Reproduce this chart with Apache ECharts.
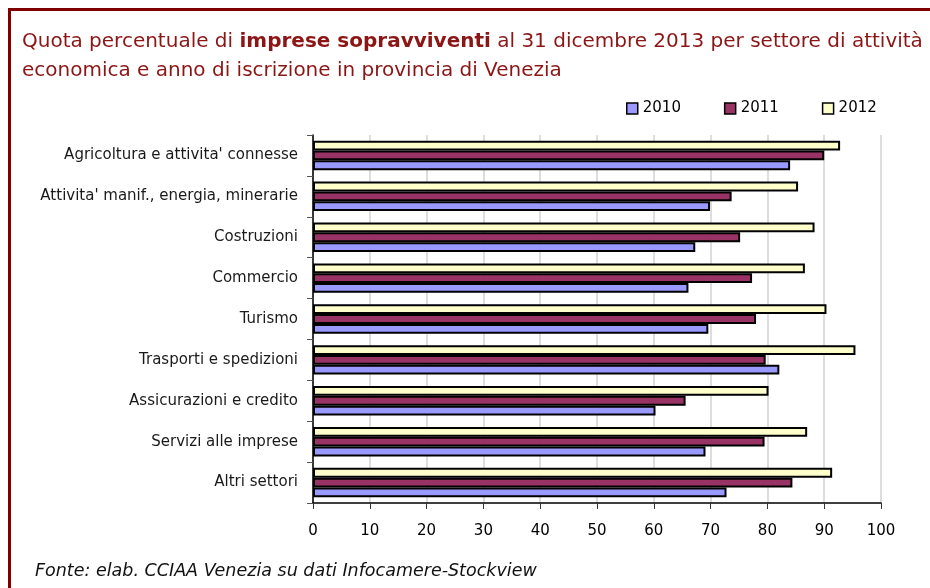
<!DOCTYPE html>
<html>
<head>
<meta charset="utf-8">
<script src="https://cdn.jsdelivr.net/npm/echarts@6/dist/echarts.min.js"></script>
<style>html,body{margin:0;padding:0;background:#fff;}#c{width:930px;height:588px;}</style>
</head>
<body>
<div id="c"></div>
<script>
const categories = [
  "Agricoltura e attivita' connesse",
  "Attivita' manif., energia, minerarie",
  "Costruzioni",
  "Commercio",
  "Turismo",
  "Trasporti e spedizioni",
  "Assicurazioni e credito",
  "Servizi alle imprese",
  "Altri settori"
];
const years = ["2010", "2011", "2012"];
const values2010 = [84.0, 69.9, 67.3, 66.1, 69.6, 82.1, 60.3, 69.1, 72.8];
const values2011 = [90.0, 73.7, 75.2, 77.3, 78.0, 79.7, 65.6, 79.5, 84.4];
const values2012 = [92.8, 85.4, 88.3, 86.6, 90.4, 95.5, 80.2, 87.0, 91.4];
const xTicks = [0, 10, 20, 30, 40, 50, 60, 70, 80, 90, 100];

const colors = { "2010": "#9999FF", "2011": "#993366", "2012": "#FFFFCC" };
const seriesData = { "2010": values2010, "2011": values2011, "2012": values2012 };

const chart = echarts.init(document.getElementById('c'), null, { renderer: 'canvas' });
const FONT = "'DejaVu Sans', Verdana, sans-serif";

const series = ["2012", "2011", "2010"].map(y => ({
  name: y,
  type: 'bar',
  data: seriesData[y],
  barGap: '0%',
  barCategoryGap: '28%',
  itemStyle: { color: colors[y], borderColor: '#000', borderWidth: 2 },
  emphasis: { disabled: true },
  animation: false
}));

chart.setOption({
  animation: false,
  title: {
    left: 22,
    top: 27,
    padding: 0,
    text: "{a|Quota percentuale di }{b|imprese sopravviventi}{a| al 31 dicembre 2013 per settore di attività}\n{a|economica e anno di iscrizione in provincia di Venezia}",
    textStyle: {
      fontWeight: 'normal',
      rich: {
        a: { fontFamily: FONT, fontSize: 20, fontWeight: 'normal', color: '#8c1515', lineHeight: 29 },
        b: { fontFamily: FONT, fontSize: 20, fontWeight: 'bold', color: '#8c1515', lineHeight: 29 }
      }
    }
  },
  legend: {
    data: years,
    left: 626,
    top: 101,
    padding: 0,
    itemWidth: 11,
    itemHeight: 11,
    itemGap: 43,
    icon: 'rect',
    textStyle: { fontFamily: FONT, fontSize: 15, color: '#000' },
    itemStyle: { borderColor: '#000', borderWidth: 1.5 },
    selectedMode: false
  },
  grid: { left: 313, right: 49, top: 135, bottom: 85, containLabel: false },
  xAxis: {
    type: 'value',
    min: 0,
    max: 100,
    interval: 10,
    axisLine: { show: true, lineStyle: { color: '#000', width: 1.5 } },
    axisTick: { show: true, length: 6, lineStyle: { color: '#333' } },
    axisLabel: {
      margin: 21,
      fontFamily: FONT,
      fontSize: 15,
      color: '#000',
      formatter: v => xTicks.indexOf(v) >= 0 ? String(v) : ''
    },
    splitLine: { show: true, lineStyle: { color: '#d2d2d2', width: 1.5 } }
  },
  yAxis: {
    type: 'category',
    data: categories,
    inverse: true,
    axisLine: { show: true, lineStyle: { color: '#000', width: 1.5 } },
    axisTick: { show: true, length: 6, lineStyle: { color: '#555' } },
    axisLabel: { margin: 15, fontFamily: FONT, fontSize: 15, color: '#1a1a1a' },
    splitLine: { show: false }
  },
  graphic: [
    {
      type: 'rect',
      shape: { x: 9.5, y: 9.5, width: 1000, height: 1000 },
      style: { fill: 'none', stroke: '#800000', lineWidth: 3 },
      silent: true
    },
    {
      type: 'text',
      left: 35,
      top: 562,
      style: {
        text: 'Fonte: elab. CCIAA Venezia su dati Infocamere-Stockview',
        font: "italic 17.5px 'DejaVu Sans', sans-serif",
        fill: '#111'
      },
      silent: true
    }
  ],
  series: series
});
</script>
</body>
</html>
